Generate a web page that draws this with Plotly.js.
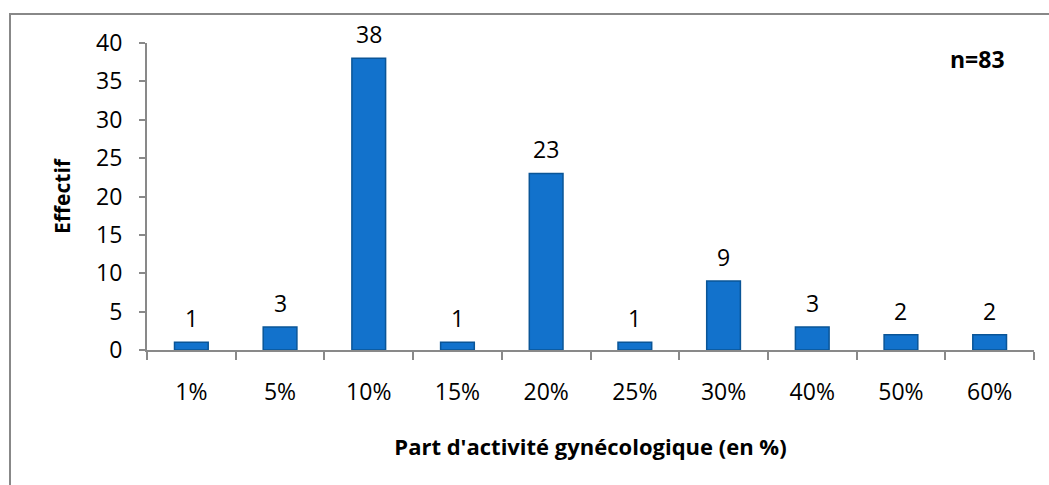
<!DOCTYPE html>
<html>
<head>
<meta charset="utf-8">
<script src="https://cdn.plot.ly/plotly-3.0.1.min.js"></script>
<style>html,body{margin:0;padding:0;background:#fff;}#chart{width:1049px;height:485px;}</style>
</head>
<body>
<div id="chart"></div>
<script>
const categories = ["1%", "5%", "10%", "15%", "20%", "25%", "30%", "40%", "50%", "60%"];
const counts = [1, 3, 38, 1, 23, 1, 9, 3, 2, 2];
const yTicks = [0, 5, 10, 15, 20, 25, 30, 35, 40];

const FONT = "'Open Sans', Lato, 'Liberation Sans', sans-serif";

const trace = {
  type: "bar",
  x: categories,
  y: counts,
  marker: {color: "#1272cc", line: {color: "#0a5597", width: 1.5}},
  width: 0.38,
  hoverinfo: "x+y"
};

const labelAnnotations = categories.map((c, i) => ({
  x: c, y: counts[i], xref: "x", yref: "y",
  text: String(counts[i]), showarrow: false,
  xanchor: "center", yanchor: "bottom", yshift: 6,
  font: {family: FONT, size: 23, color: "#000"}
}));

const layout = {
  width: 1049, height: 485,
  margin: {l: 147, r: 15, t: 43, b: 135},
  paper_bgcolor: "#fff", plot_bgcolor: "#fff",
  showlegend: false,
  font: {family: FONT, size: 23, color: "#000"},
  xaxis: {
    type: "category",
    showline: true, linecolor: "#898989", linewidth: 2,
    ticks: "outside", tickson: "boundaries", ticklen: 8, tickwidth: 2, tickcolor: "#898989",
    ticklabelstandoff: 20,
    tickfont: {family: FONT, size: 23},
    showgrid: false, zeroline: false,
    title: {text: "Part d'activité gynécologique (en %)", font: {family: FONT, size: 22, weight: "bold"}, standoff: 34}
  },
  yaxis: {
    range: [0, 40], tickvals: yTicks,
    showline: true, linecolor: "#898989", linewidth: 2,
    ticks: "outside", ticklen: 6, tickwidth: 2, tickcolor: "#898989",
    ticklabelstandoff: 12,
    tickfont: {family: FONT, size: 23},
    showgrid: false, zeroline: false,
    title: {text: "Effectif", font: {family: FONT, size: 21, weight: "bold"}, standoff: 20}
  },
  annotations: labelAnnotations.concat([{
    xref: "paper", yref: "paper", x: (977 - 147) / 887, y: (350 - 59) / 307,
    text: "<b>n=83</b>", showarrow: false, font: {family: FONT, size: 23, color: "#000"},
    xanchor: "center", yanchor: "middle"
  }]),
  shapes: [{
    type: "rect", xref: "paper", yref: "paper", layer: "below",
    x0: (10 - 147) / 887, x1: 1.05, y0: -0.6, y1: (350 - 14) / 307,
    line: {color: "#888", width: 2}, fillcolor: "rgba(0,0,0,0)"
  }]
};

Plotly.newPlot("chart", [trace], layout, {displayModeBar: false, staticPlot: true});
</script>
</body>
</html>
